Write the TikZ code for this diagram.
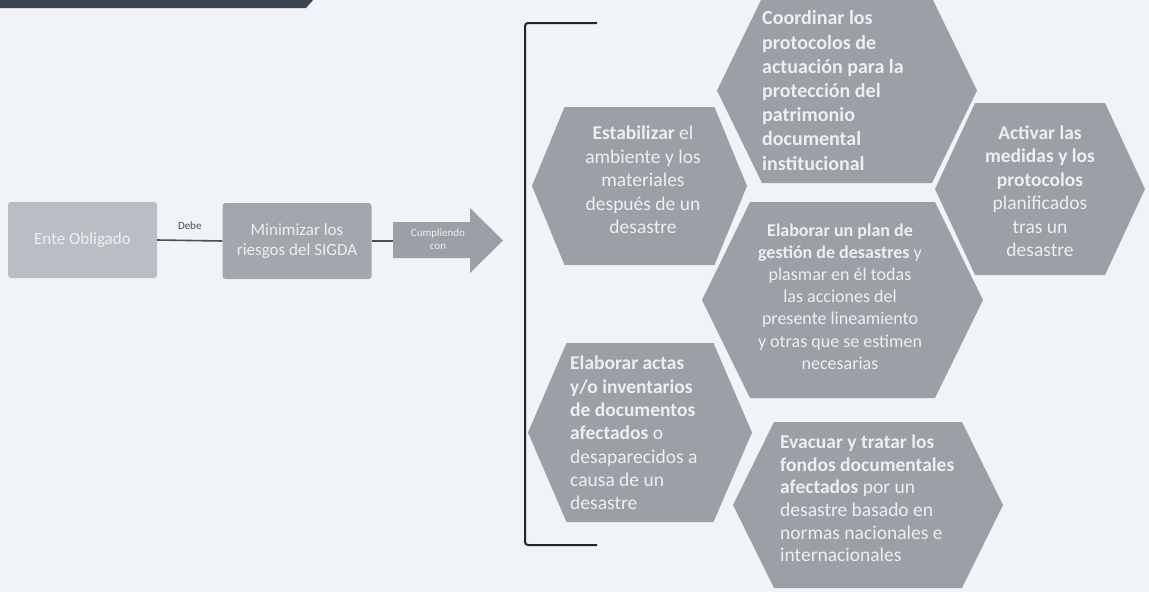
\documentclass[tikz,border=0pt]{standalone}
\usepackage{fontspec}
\setmainfont{Carlito}
\definecolor{bg}{HTML}{F0F3F7}
\definecolor{hexfill}{HTML}{9C9FA6}
\definecolor{boxA}{HTML}{B9BDC4}
\definecolor{boxB}{HTML}{A3A6AC}
\definecolor{txt}{HTML}{EDEFF2}
\definecolor{barc}{HTML}{3B4350}
\definecolor{linec}{HTML}{4A4E55}
\newcommand{\hexpath}[5]{\fill[hexfill] ({#1-#3},#2) -- ({#1-#4},{#2-#5}) -- ({#1+#4},{#2-#5}) -- ({#1+#3},#2) -- ({#1+#4},{#2+#5}) -- ({#1-#4},{#2+#5}) -- cycle;}
\tikzset{
  hextext/.style={text=txt, font=\fontsize{19.5}{23.5}\selectfont, inner sep=0pt},
  flowbox/.style={minimum width=149pt, minimum height=76pt, text=txt, font=\fontsize{17}{20}\selectfont, align=center, inner sep=0pt, rounded corners=3pt},
  conn/.style={draw=linec, line width=1.6pt},
  bracketline/.style={draw=black!85, line width=2pt, rounded corners=3pt},
}
\begin{document}
\begin{tikzpicture}[x=1pt,y=-1pt]
\useasboundingbox (0,0) rectangle (1149,592);
\fill[bg] (0,0) rectangle (1149,592);
% top bar
\fill[barc] (0,-1) -- (314,-1) -- (306,8) -- (0,8) -- cycle;
% left flow
\node[flowbox, fill=boxA] (ente) at (82.5,240) {Ente Obligado};
\node[flowbox, fill=boxB] (mini) at (297,241) {Minimizar los\\riesgos del SIGDA};
\fill[hexfill] (393,222) -- (470,222) -- (470,208) -- (503,240.5) -- (470,273) -- (470,258) -- (393,258) -- cycle;
\coordinate (tail) at (393,241);
\node[text=txt, font=\fontsize{11}{12.5}\selectfont, align=center, inner sep=0pt] (arrow) at (438,239) {Cumpliendo\\con};
\draw[conn] (ente.east) -- node[above=10pt, text=black!70, font=\fontsize{11}{12}\selectfont, inner sep=0pt] {Debe} (mini.west);
\draw[conn] (mini.east) -- (tail);
% bracket
\coordinate (bt) at (597,23);
\coordinate (bb) at (597,545);
\draw[bracketline] (bt) -- (525,23) -- (525,545) -- (bb);
% hexagons
\hexpath{639.5}{186}{107.5}{75}{79}
\hexpath{847}{90.5}{130}{85}{92.5}
\hexpath{1040}{189}{105}{65}{86}
\hexpath{842.5}{300}{140.5}{92.5}{98}
\hexpath{640}{432.5}{112}{73.5}{89.5}
\hexpath{868}{505}{135}{94}{83}
\node[hextext, align=center] (estab) at (643,180) {{\bfseries Estabilizar} el\\ambiente y los\\materiales\\después de un\\desastre};
\node[hextext, align=left, anchor=west, font=\bfseries\fontsize{20}{24.2}\selectfont] (coord) at (762,90.5) {Coordinar los\\protocolos de\\actuación para la\\protección del\\patrimonio\\documental\\institucional};
\node[hextext, align=center] (activ) at (1040,191) {{\bfseries Activar las}\\{\bfseries medidas y los}\\{\bfseries protocolos}\\planificados\\tras un\\desastre};
\node[hextext, align=center, font=\fontsize{18}{22.2}\selectfont] (plan) at (840,296.5) {{\bfseries Elaborar un plan de}\\{\bfseries gestión de desastres} y\\plasmar en él todas\\las acciones del\\presente lineamiento\\y otras que se estimen\\necesarias};
\node[hextext, align=left, anchor=west, font=\fontsize{19.5}{23.3}\selectfont] (actas) at (570,433) {{\bfseries Elaborar actas}\\{\bfseries y/o inventarios}\\{\bfseries de documentos}\\{\bfseries afectados} o\\desaparecidos a\\causa de un\\desastre};
\node[hextext, align=left, anchor=west, font=\fontsize{19.5}{22.6}\selectfont] (evac) at (780,498.5) {{\bfseries Evacuar y tratar los}\\{\bfseries fondos documentales}\\{\bfseries afectados} por un\\desastre basado en\\normas nacionales e\\internacionales};
\end{tikzpicture}
\end{document}
